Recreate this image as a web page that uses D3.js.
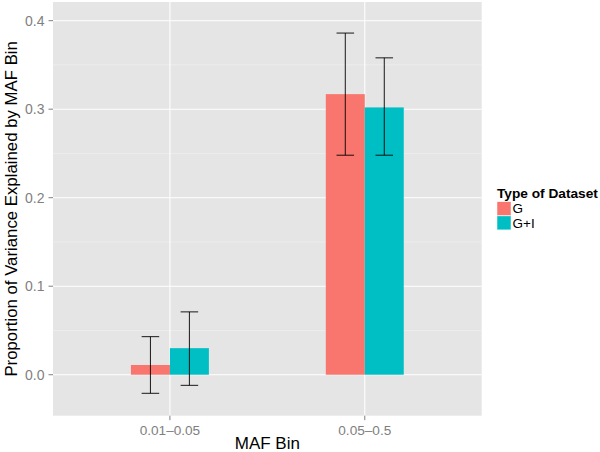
<!DOCTYPE html>
<meta charset="utf-8">
<style>
  body { margin: 0; background: #fff; }
  text { font-family: "Liberation Sans", Arial, sans-serif; }
</style>
<svg width="600" height="452"></svg>
<script src="https://d3js.org/d3.v7.min.js"></script>
<script>
// categories and groups
var bins = ["0.01\u20130.05", "0.05\u20130.5"]
var groups = ["G", "G+I"]
var colors = ["#F8766D", "#00BFC4"]

// proportion of variance per bin, one array per dataset type
var valuesG  = [0.011, 0.317]
var valuesGI = [0.030, 0.302]
var lowerG   = [-0.021, 0.248]
var upperG   = [0.043, 0.386]
var lowerGI  = [-0.012, 0.248]
var upperGI  = [0.071, 0.358]

var yTicks = [0.0, 0.1, 0.2, 0.3, 0.4]
var yMinor = [0.05, 0.15, 0.25, 0.35]

var rows = []
bins.forEach(function (b, i) {
  rows.push({ bin: b, group: "G", value: valuesG[i], lo: lowerG[i], hi: upperG[i] })
  rows.push({ bin: b, group: "G+I", value: valuesGI[i], lo: lowerGI[i], hi: upperGI[i] })
})

var svg = d3.select("svg")
var panel = { left: 53, top: 2, right: 481.7, bottom: 415.7 }

// discrete axis like ggplot: 0.6 unit padding each side
var xUnit = d3.scaleLinear().domain([0.4, 2.6]).range([panel.left, panel.right])
var y = d3.scaleLinear().domain([-0.0463, 0.4211]).range([panel.bottom, panel.top])
var color = d3.scaleOrdinal().domain(groups).range(colors)

var barW = 0.2   // each bar, in category units
var capW = 0.045

svg.append("rect")
  .attr("x", panel.left).attr("y", panel.top)
  .attr("width", panel.right - panel.left).attr("height", panel.bottom - panel.top)
  .attr("fill", "#e5e5e5")

// minor gridlines
svg.append("g").selectAll("line").data(yMinor).enter().append("line")
  .attr("x1", panel.left).attr("x2", panel.right)
  .attr("y1", function (d) { return y(d) }).attr("y2", function (d) { return y(d) })
  .attr("stroke", "#f2f2f2").attr("stroke-width", 0.6)

// major gridlines
svg.append("g").selectAll("line").data(yTicks).enter().append("line")
  .attr("x1", panel.left).attr("x2", panel.right)
  .attr("y1", function (d) { return y(d) }).attr("y2", function (d) { return y(d) })
  .attr("stroke", "#ffffff").attr("stroke-width", 1.1)

svg.append("g").selectAll("line").data(bins).enter().append("line")
  .attr("x1", function (d, i) { return xUnit(i + 1) }).attr("x2", function (d, i) { return xUnit(i + 1) })
  .attr("y1", panel.top).attr("y2", panel.bottom)
  .attr("stroke", "#ffffff").attr("stroke-width", 1.1)

function barCenter(r) {
  var i = bins.indexOf(r.bin)
  var g = groups.indexOf(r.group)
  return i + 1 + (g === 0 ? -barW / 2 : barW / 2)
}

// bars
svg.append("g").selectAll("rect").data(rows).enter().append("rect")
  .attr("x", function (r) { return xUnit(barCenter(r) - barW / 2) })
  .attr("width", function () { return xUnit(barW) - xUnit(0) })
  .attr("y", function (r) { return y(Math.max(0, r.value)) })
  .attr("height", function (r) { return Math.abs(y(r.value) - y(0)) })
  .attr("fill", function (r) { return color(r.group) })

// error bars
var eb = svg.append("g").selectAll("g").data(rows).enter().append("g")
  .attr("stroke", "#000").attr("stroke-width", 0.9)
eb.append("line")
  .attr("x1", function (r) { return xUnit(barCenter(r)) }).attr("x2", function (r) { return xUnit(barCenter(r)) })
  .attr("y1", function (r) { return y(r.lo) }).attr("y2", function (r) { return y(r.hi) })
eb.append("line")
  .attr("x1", function (r) { return xUnit(barCenter(r) - capW) }).attr("x2", function (r) { return xUnit(barCenter(r) + capW) })
  .attr("y1", function (r) { return y(r.hi) }).attr("y2", function (r) { return y(r.hi) })
eb.append("line")
  .attr("x1", function (r) { return xUnit(barCenter(r) - capW) }).attr("x2", function (r) { return xUnit(barCenter(r) + capW) })
  .attr("y1", function (r) { return y(r.lo) }).attr("y2", function (r) { return y(r.lo) })

// y axis ticks & labels
var yAxis = svg.append("g")
yAxis.selectAll("line").data(yTicks).enter().append("line")
  .attr("x1", panel.left - 4.5).attr("x2", panel.left)
  .attr("y1", function (d) { return y(d) }).attr("y2", function (d) { return y(d) })
  .attr("stroke", "#7f7f7f")
yAxis.selectAll("text").data(yTicks).enter().append("text")
  .attr("x", panel.left - 8.5).attr("y", function (d) { return y(d) })
  .attr("dy", "0.35em").attr("text-anchor", "end")
  .attr("font-size", 14).attr("fill", "#7f7f7f")
  .text(function (d) { return d3.format(".1f")(d) })

// x axis ticks & labels
var xAxis = svg.append("g")
xAxis.selectAll("line").data(bins).enter().append("line")
  .attr("x1", function (d, i) { return xUnit(i + 1) }).attr("x2", function (d, i) { return xUnit(i + 1) })
  .attr("y1", panel.bottom).attr("y2", panel.bottom + 4.5)
  .attr("stroke", "#7f7f7f")
xAxis.selectAll("text").data(bins).enter().append("text")
  .attr("x", function (d, i) { return xUnit(i + 1) }).attr("y", 434.5)
  .attr("text-anchor", "middle")
  .attr("font-size", 13.6).attr("fill", "#7f7f7f")
  .text(function (d) { return d })

// axis titles
svg.append("text")
  .attr("x", (panel.left + panel.right) / 2).attr("y", 448.5)
  .attr("text-anchor", "middle").attr("font-size", 17)
  .text("MAF Bin")
svg.append("text")
  .attr("transform", "translate(16.5," + ((panel.top + panel.bottom) / 2) + ") rotate(-90)")
  .attr("text-anchor", "middle").attr("font-size", 16.8)
  .text("Proportion of Variance Explained by MAF Bin")

// legend
var legend = svg.append("g").attr("transform", "translate(497,0)")
legend.append("text")
  .attr("x", 0).attr("y", 197.5)
  .attr("font-size", 13.7).attr("font-weight", "bold")
  .text("Type of Dataset")
var keys = legend.selectAll("g").data(groups).enter().append("g")
  .attr("transform", function (d, i) { return "translate(0," + (201.7 + i * 14.2) + ")" })
keys.append("rect")
  .attr("width", 14).attr("height", 14)
  .attr("fill", function (d) { return color(d) })
  .attr("stroke", "#fff").attr("stroke-width", 0.5)
keys.append("text")
  .attr("x", 15.5).attr("y", 7).attr("dy", "0.35em")
  .attr("font-size", 13.5)
  .text(function (d) { return d })
</script>
